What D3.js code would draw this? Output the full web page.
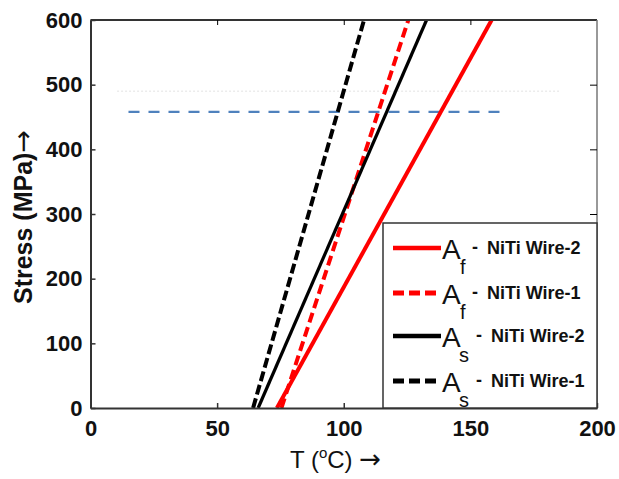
<!DOCTYPE html>
<html>
<head>
<meta charset="utf-8">
<script src="https://cdn.jsdelivr.net/npm/d3@7"></script>
<style>
  body { margin: 0; background: #fff; }
  svg { font-family: "Liberation Sans", Arial, sans-serif; }
</style>
</head>
<body>
<div id="chart"></div>
<script>
// stress end points of every line (MPa)
var stressEnds = [0, 600];
// temperatures (°C) at 0 and 600 MPa
var afWire2 = [73.6, 158.4];
var afWire1 = [75.4, 125.5];
var asWire2 = [66.2, 132.7];
var asWire1 = [64.2, 108.0];
// horizontal reference line
var refStress = 458;
var refT = [15, 161.5];
var faintStress = 490;
var faintT = [10.5, 185];

var xTicks = [0, 50, 100, 150, 200];
var yTicks = [0, 100, 200, 300, 400, 500, 600];

var series = [
  {sym: "f", label: "NiTi Wire-2", t: afWire2, color: "#ff0000", dash: null, w: 4},
  {sym: "f", label: "NiTi Wire-1", t: afWire1, color: "#ff0000", dash: "10,5", w: 4},
  {sym: "s", label: "NiTi Wire-2", t: asWire2, color: "#000000", dash: null, w: 3.2},
  {sym: "s", label: "NiTi Wire-1", t: asWire1, color: "#000000", dash: "10,4", w: 4}
];

var W = 619, H = 479;
var svg = d3.select("#chart").append("svg").attr("width", W).attr("height", H);

var x = d3.scaleLinear().domain([0, 200]).range([90.5, 597]);
var y = d3.scaleLinear().domain([0, 600]).range([408, 20]);

// faint dotted artefact line
svg.append("line")
  .attr("x1", x(faintT[0])).attr("x2", x(faintT[1]))
  .attr("y1", y(faintStress)).attr("y2", y(faintStress))
  .attr("stroke", "#ececec").attr("stroke-width", 1.5)
  .attr("stroke-dasharray", "2,2");

// blue dashed reference
svg.append("line")
  .attr("x1", x(refT[0])).attr("x2", x(refT[1]))
  .attr("y1", y(refStress)).attr("y2", y(refStress))
  .attr("stroke", "#4f81bd").attr("stroke-width", 2.2)
  .attr("stroke-dasharray", "11,9");

var line = d3.line()
  .x(function (d) { return x(d[0]); })
  .y(function (d) { return y(d[1]); });

series.forEach(function (s) {
  var pts = s.t.map(function (t, i) { return [t, stressEnds[i]]; });
  svg.append("path")
    .attr("d", line(pts))
    .attr("fill", "none")
    .attr("stroke", s.color)
    .attr("stroke-width", s.w)
    .attr("stroke-dasharray", s.dash);
});

// frame
svg.append("line").attr("x1", x(0)).attr("x2", x(200)).attr("y1", y(600)).attr("y2", y(600))
  .attr("stroke", "#333").attr("stroke-width", 2);
svg.append("line").attr("x1", x(200)).attr("x2", x(200)).attr("y1", y(600)).attr("y2", y(0))
  .attr("stroke", "#777").attr("stroke-width", 1.5);

// axes
var xAxis = svg.append("g").attr("transform", "translate(0," + y(0) + ")")
  .call(d3.axisBottom(x).tickValues(xTicks).tickSize(-5).tickSizeOuter(0).tickPadding(12));
var yAxis = svg.append("g").attr("transform", "translate(" + x(0) + ",0)")
  .call(d3.axisLeft(y).tickValues(yTicks).tickSize(-5).tickSizeOuter(0).tickPadding(8));
svg.append("g").attr("transform", "translate(0," + y(600) + ")")
  .call(d3.axisTop(x).tickValues(xTicks.slice(1, 4)).tickSize(-5).tickSizeOuter(0).tickFormat(""))
  .select(".domain").remove();
svg.append("g").attr("transform", "translate(" + x(200) + ",0)")
  .call(d3.axisRight(y).tickValues(yTicks.slice(1, 6)).tickSize(-7).tickSizeOuter(0).tickFormat(""))
  .select(".domain").remove();

[xAxis, yAxis].forEach(function (g) {
  g.select(".domain").attr("stroke", "#333").attr("stroke-width", 2);
  g.selectAll(".tick line").attr("stroke", "#333").attr("stroke-width", 1.5);
  g.selectAll(".tick text")
    .attr("font-family", "Liberation Sans, Arial, sans-serif")
    .attr("font-size", 22).attr("font-weight", "bold").attr("fill", "#111");
});

// legend
var lg = svg.append("g");
lg.append("rect")
  .attr("x", 383).attr("y", 223).attr("width", x(200) - 383).attr("height", y(0) - 223)
  .attr("fill", "#fff").attr("stroke", "#333").attr("stroke-width", 1.5);
var rowY = [248, 293, 336, 381];
series.forEach(function (s, i) {
  var ry = rowY[i];
  lg.append("line")
    .attr("x1", 393).attr("x2", 441).attr("y1", ry).attr("y2", ry)
    .attr("stroke", s.color).attr("stroke-width", s.dash ? 5 : 4.5)
    .attr("stroke-dasharray", s.dash ? "11,5" : null);
  lg.append("text").attr("x", 442).attr("y", ry + 11)
    .attr("font-size", 28).attr("fill", "#111").text("A");
  lg.append("text").attr("x", s.sym === "f" ? 460 : 459).attr("y", ry + 26)
    .attr("font-size", 20).attr("fill", "#111").text(s.sym);
  var off = s.sym === "s" ? 4 : 0;
  lg.append("text").attr("x", 472 + off).attr("y", ry + 5)
    .attr("font-size", 18).attr("font-weight", "bold").attr("fill", "#111").text("-");
  lg.append("text").attr("x", 487 + off).attr("y", ry + 6)
    .attr("font-size", 18).attr("font-weight", "bold").attr("fill", "#111").text(s.label);
});

// axis titles
var xt = svg.append("text").attr("x", 290).attr("y", 468)
  .attr("font-size", 24).attr("fill", "#111");
xt.append("tspan").text("T (");
xt.append("tspan").attr("font-size", 15).attr("dy", -10).text("o");
xt.append("tspan").attr("dy", 10).text("C) ");
xt.append("tspan").attr("font-family", "DejaVu Sans").attr("font-size", 26).text("\u2192");

var yt = svg.append("text")
  .attr("transform", "translate(32,217) rotate(-90)")
  .attr("text-anchor", "middle")
  .attr("font-size", 25).attr("font-weight", "bold").attr("fill", "#111");
yt.append("tspan").text("Stress (MPa)");
yt.append("tspan").attr("font-family", "DejaVu Sans").attr("font-weight", "normal")
  .attr("font-size", 27).text("\u2192");
</script>
</body>
</html>
